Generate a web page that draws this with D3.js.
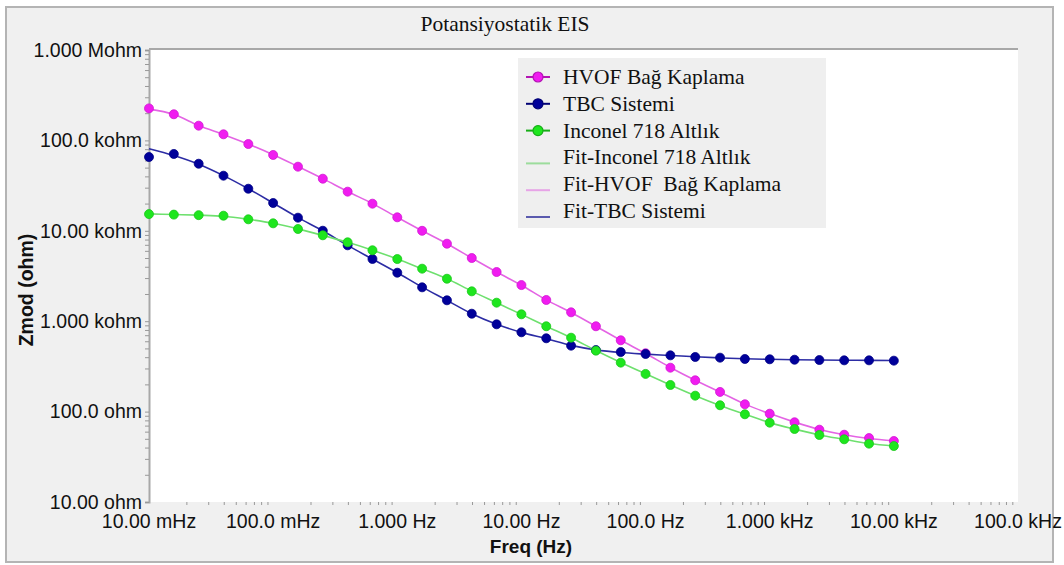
<!DOCTYPE html>
<html>
<head>
<meta charset="utf-8">
<script src="https://cdn.jsdelivr.net/npm/d3@7"></script>
<style>
body { margin: 0; background: #fff; }
</style>
</head>
<body>
<div id="chart"></div>
<script>
// frequencies, 5 pts per decade
const freq = [0.01, 0.01585, 0.02512, 0.03981, 0.0631,
    0.1, 0.1585, 0.2512, 0.3981, 0.631,
    1, 1.585, 2.512, 3.981, 6.31,
    10, 15.85, 25.12, 39.81, 63.1,
    100, 158.5, 251.2, 398.1, 631,
    1000, 1585, 2512, 3981, 6310, 10000];

const hvof = [226000, 194600, 145500, 116800, 91200, 69000, 51200, 37700, 27100, 19950,
    14100, 10000, 7200, 5000, 3500, 2510, 1717, 1254, 879, 615,
    442, 306, 222, 165, 120.5, 94.8, 76.2, 63.1, 55.5, 51.0, 47.3];

const tbc = [65500, 70800, 55200, 40700, 29200, 20300, 13970, 10020, 6910, 4880,
    3440, 2370, 1703, 1210, 924, 754, 647, 536, 480, 456,
    434, 419, 402, 395, 382, 379, 375, 372, 369, 369, 366];

const inconel = [15300, 15100, 14900, 14690, 13400, 12100, 10470, 8920, 7460, 6090,
    4870, 3810, 2950, 2140, 1603, 1192, 879, 657, 472, 348,
    261, 197, 150, 117.5, 93.4, 75.4, 64.2, 55.1, 49.4, 44.2, 41.6];

const fitHvof = [222000, 194000, 146000, 116000, 91000, 69500, 51500, 37800, 27200, 20000,
    14100, 10000, 7200, 5000, 3500, 2500, 1720, 1250, 880, 615,
    440, 308, 222, 164, 121, 95, 76.5, 63.5, 55.5, 50.5, 47.5];

const fitTbc = [80900, 68000, 54500, 40800, 29200, 20300, 14000, 10000, 6900, 4870,
    3440, 2380, 1700, 1210, 925, 752, 640, 540, 482, 450,
    432, 418, 404, 393, 384, 379, 375, 372, 370, 369, 367];

const fitInconel = [15400, 15150, 14900, 14500, 13400, 12100, 10500, 8900, 7450, 6100,
    4880, 3800, 2950, 2150, 1600, 1190, 880, 655, 475, 350,
    262, 197, 150, 117, 93.5, 75.5, 64, 55.2, 49.4, 44.3, 41.6];

const xTickLabels = ["10.00 mHz", "100.0 mHz", "1.000 Hz", "10.00 Hz", "100.0 Hz", "1.000 kHz", "10.00 kHz", "100.0 kHz"];
const yTickLabels = ["10.00 ohm", "100.0 ohm", "1.000 kohm", "10.00 kohm", "100.0 kohm", "1.000 Mohm"];

const legendNames = ["HVOF Bağ Kaplama", "TBC Sistemi", "Inconel 718 Altlık",
    "Fit-Inconel 718 Altlık", "Fit-HVOF  Bağ Kaplama", "Fit-TBC Sistemi"];

const W = 1064, H = 565;
const margin = { left: 149, top: 50, right: 46, bottom: 63 };

const svg = d3.select("#chart").append("svg")
    .attr("width", W)
    .attr("height", H)
    .style("font-family", "'Liberation Sans', Arial, sans-serif");

// outer panel
svg.append("rect")
    .attr("x", 6).attr("y", 7)
    .attr("width", 1047).attr("height", 555)
    .attr("fill", "#f0f0f0")
    .attr("stroke", "#b4b4b4")
    .attr("stroke-width", 2);

svg.append("text")
    .attr("x", 505).attr("y", 31)
    .attr("text-anchor", "middle")
    .style("font-family", "'Liberation Serif', 'Times New Roman', serif")
    .style("font-size", "21.5px")
    .attr("fill", "#111")
    .text("Potansiyostatik EIS");

const x = d3.scaleLog().domain([0.01, 1e5]).range([margin.left, W - margin.right]);
const y = d3.scaleLog().domain([10, 1e6]).range([H - margin.bottom, margin.top]);

// plot area
svg.append("rect")
    .attr("x", x.range()[0]).attr("y", y.range()[1])
    .attr("width", x.range()[1] - x.range()[0])
    .attr("height", y.range()[0] - y.range()[1])
    .attr("fill", "#fff");

svg.append("line")
    .attr("x1", x.range()[0]).attr("x2", x.range()[1])
    .attr("y1", y.range()[1] - 1).attr("y2", y.range()[1] - 1)
    .attr("stroke", "#a8a8a8").attr("stroke-width", 2);

const isDecade = d => Math.abs(Math.log10(d) - Math.round(Math.log10(d))) < 1e-9;

// y axis
const yAxis = svg.append("g")
    .attr("transform", `translate(${x.range()[0]},0)`)
    .call(d3.axisLeft(y)
        .tickValues(y.ticks())
        .tickSize(4)
        .tickPadding(3)
        .tickFormat(d => isDecade(d) ? yTickLabels[Math.round(Math.log10(d)) - 1] : ""));
yAxis.select(".domain").attr("stroke", "#a8a8a8").attr("stroke-width", 2);
yAxis.selectAll(".tick line").attr("stroke", "#999");
yAxis.selectAll(".tick text")
    .attr("fill", "#111")
    .style("font-size", "19.5px");

// x axis (minor ticks only)
const xAxis = svg.append("g")
    .attr("transform", `translate(0,${y.range()[0]})`)
    .call(d3.axisBottom(x)
        .tickValues(x.ticks().filter(d => !isDecade(d)))
        .tickSize(3)
        .tickFormat(""));
xAxis.select(".domain").remove();
xAxis.selectAll(".tick line").attr("stroke", "#999");

svg.append("g")
    .selectAll("text")
    .data(xTickLabels)
    .enter()
    .append("text")
        .attr("x", (d, i) => x(Math.pow(10, i - 2)))
        .attr("y", y.range()[0] + 26)
        .attr("text-anchor", "middle")
        .attr("fill", "#111")
        .style("font-size", "19.5px")
        .text(d => d);

// axis titles
svg.append("text")
    .attr("x", 531).attr("y", 553)
    .attr("text-anchor", "middle")
    .style("font-size", "19px").style("font-weight", "bold")
    .attr("fill", "#111")
    .text("Freq (Hz)");

svg.append("text")
    .attr("transform", "translate(33,290) rotate(-90)")
    .attr("text-anchor", "middle")
    .style("font-size", "19.5px").style("font-weight", "bold")
    .attr("fill", "#111")
    .text("Zmod (ohm)");

const series = [
    { data: hvof, fit: fitHvof, dot: "#f01cf0", line: "#e464e4", leg: "#e7a4e7" },
    { data: tbc, fit: fitTbc, dot: "#00009a", line: "#2c2ca4", leg: "#5a5aae" },
    { data: inconel, fit: fitInconel, dot: "#1ee61e", line: "#6ee06e", leg: "#9cdc9c" }
];

const plot = svg.append("g");

const lineGen = d3.line()
    .x((d, i) => x(freq[i]))
    .y(d => y(d))
    .curve(d3.curveMonotoneX);

// fit lines
series.forEach(s => {
    plot.append("path")
        .attr("d", lineGen(s.fit))
        .attr("fill", "none")
        .attr("stroke", s.line)
        .attr("stroke-width", 1.6);
});

// data markers
series.forEach(s => {
    plot.selectAll(null)
        .data(s.data)
        .enter()
        .append("circle")
            .attr("cx", (d, i) => x(freq[i]))
            .attr("cy", d => y(d))
            .attr("r", 4.5)
            .attr("fill", s.dot)
            .attr("stroke", d3.color(s.dot).darker(0.4))
            .attr("stroke-width", 0.8);
});

// legend
const lg = svg.append("g").attr("transform", "translate(518,58)");
lg.append("rect")
    .attr("width", 308).attr("height", 170)
    .attr("fill", "#efefef");

const legendItems = [
    { name: legendNames[0], s: series[0], marker: true },
    { name: legendNames[1], s: series[1], marker: true },
    { name: legendNames[2], s: series[2], marker: true },
    { name: legendNames[3], s: series[2], marker: false },
    { name: legendNames[4], s: series[0], marker: false },
    { name: legendNames[5], s: series[1], marker: false }
];

legendItems.forEach((it, i) => {
    const cy = 19 + i * 26.8;
    const g = lg.append("g").attr("transform", `translate(0,${cy})`);
    if (it.marker) {
        g.append("line")
            .attr("x1", 8).attr("x2", 32)
            .attr("stroke", d3.color(it.s.dot).darker(0.8))
            .attr("stroke-width", 2);
        g.append("circle")
            .attr("cx", 20).attr("r", 5)
            .attr("fill", it.s.dot)
            .attr("stroke", d3.color(it.s.dot).darker(0.8))
            .attr("stroke-width", 1.2);
    } else {
        g.append("line")
            .attr("x1", 8).attr("x2", 32)
            .attr("y1", 6).attr("y2", 6)
            .attr("stroke", it.s.leg)
            .attr("stroke-width", 2);
    }
    g.append("text")
        .attr("x", 45).attr("y", 7)
        .attr("xml:space", "preserve")
        .style("white-space", "pre")
        .style("font-family", "'Liberation Serif', 'Times New Roman', serif")
        .style("font-size", "21.5px")
        .attr("fill", "#111")
        .text(it.name);
});
</script>
</body>
</html>
